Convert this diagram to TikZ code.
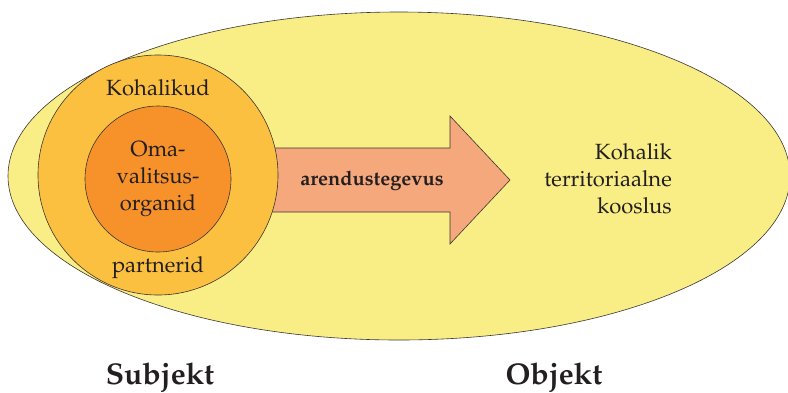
\documentclass[tikz,border=0pt]{standalone}
\usepackage[T1]{fontenc}
\usepackage{mathpazo}
\usetikzlibrary{shapes.geometric}

\definecolor{koosYellow}{HTML}{F9ED85}
\definecolor{partnerOrange}{HTML}{FCC041}
\definecolor{omaOrange}{HTML}{F7922B}
\definecolor{arrowSalmon}{HTML}{F6A87D}
\definecolor{lineGray}{HTML}{3A3633}
\definecolor{textGray}{HTML}{231F20}

\newcommand{\txtfont}{\fontsize{22}{27}\selectfont}

\begin{document}
\begin{tikzpicture}[x=1pt, y=-1pt,
    every node/.style={text=textGray},
    ring/.style={circle, draw=lineGray, line width=0.6pt, inner sep=0pt}]
      \useasboundingbox (0,0) rectangle (788,392);
      % kooslus
      \node [ellipse, draw=lineGray, line width=0.6pt, fill=koosYellow,
             minimum width=782, minimum height=328, inner sep=0pt] (kooslus) at (399,176) {};
      \node [align=right, anchor=east, inner sep=0pt, font=\txtfont] (kooslusTxt) at (672,179)
            {Kohalik\\territoriaalne\\kooslus};
      % arendustegevus
      \draw [draw=lineGray, line width=0.6pt, fill=arrowSalmon]
            (270,148) -- (450,148) -- (450,116) -- (510,180) -- (450,244) -- (450,212) -- (270,212) -- cycle;
      \node [font=\fontsize{20}{24}\selectfont\bfseries] (arendus) at (372,181) {arendustegevus};
      % partnerid ja omavalitsus
      \node [ring, fill=partnerOrange, minimum size=240] (partnerid) at (158,175) {};
      \node [ring, fill=omaOrange, minimum size=146, align=center, font=\txtfont] (omavalitsus) at (158,179)
            {Oma-\\valitsus-\\organid};
      \node [font=\txtfont] (kohalikud) at (158,88) {Kohalikud};
      \node [font=\txtfont] (partnTxt) at (158,268) {partnerid};
      % subjekt, objekt
      \node [font=\fontsize{30}{36}\selectfont\bfseries] (subjekt) at (160,377) {Subjekt};
      \node [font=\fontsize{30}{36}\selectfont\bfseries] (objekt) at (554,377) {Objekt};
\end{tikzpicture}
\end{document}
